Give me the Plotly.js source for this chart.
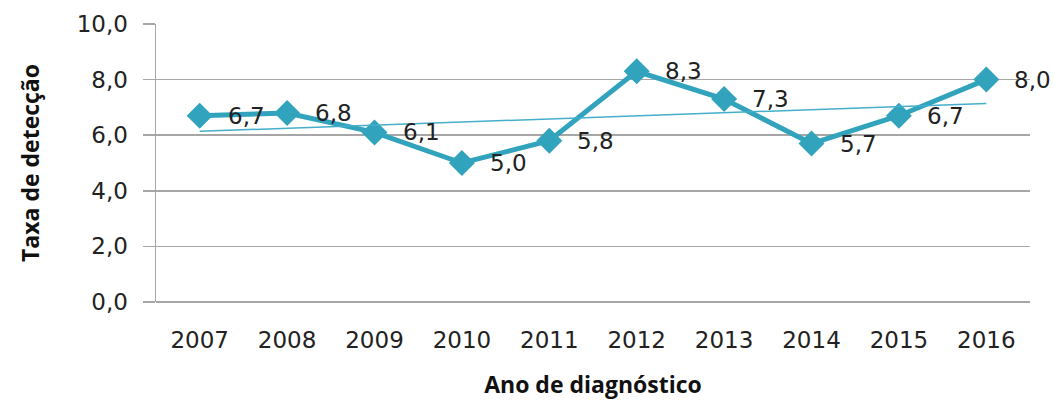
<!DOCTYPE html>
<html>
<head>
<meta charset="utf-8">
<script src="https://cdn.plot.ly/plotly-3.0.1.min.js"></script>
<style>
	body { margin: 0; background: white; }
	#plot { width: 1053px; height: 405px; }
</style>
</head>
<body>
<div id="plot"></div>
<script>
const years = ["2007", "2008", "2009", "2010", "2011", "2012", "2013", "2014", "2015", "2016"];
const rates = [6.7, 6.8, 6.1, 5.0, 5.8, 8.3, 7.3, 5.7, 6.7, 8.0];
const rateLabels = ["6,7", "6,8", "6,1", "5,0", "5,8", "8,3", "7,3", "5,7", "6,7", "8,0"];
const trendYears = ["2007", "2016"];
const trendValues = [6.14, 7.14];

const makeDetectionPlot = (plot) => {
	let traces = [
		{
			type: "scatter",
			x: years,
			y: rates,
			mode: "lines+markers",
			line: { color: "#31A3BD", width: 5 },
			marker: { symbol: "diamond", size: 20, color: "#31A3BD" }
		},
		{
			type: "scatter",
			x: trendYears,
			y: trendValues,
			mode: "lines",
			line: { color: "#45AECA", width: 1.5 },
			hoverinfo: "skip"
		}
	];
	let annotations = years.map((yr, i) => ({
		x: i,
		y: rates[i],
		xref: "x",
		yref: "y",
		text: rateLabels[i],
		showarrow: false,
		xanchor: "left",
		yanchor: "middle",
		xshift: 26,
		font: { family: "DejaVu Sans", size: 23, color: "#222222" }
	}));
	let layout = {
		showlegend: false,
		separators: ",.",
		width: 1053,
		height: 405,
		margin: { l: 156, r: 23, t: 24, b: 103 },
		paper_bgcolor: "white",
		plot_bgcolor: "white",
		font: { family: "DejaVu Sans", size: 23, color: "#222222" },
		xaxis: {
			type: "category",
			categoryorder: "array",
			categoryarray: years,
			range: [-0.5, 9.5],
			showgrid: false,
			showline: false,
			ticks: "",
			ticklabelstandoff: 22,
			tickfont: { family: "DejaVu Sans", size: 23, color: "#222222" },
			title: {
				text: "<b>Ano de diagnóstico</b>",
				font: { family: "Open Sans", size: 23, color: "#111111" },
				standoff: 24
			}
		},
		yaxis: {
			range: [0, 10],
			dtick: 2,
			tickformat: ".1f",
			showgrid: true,
			gridcolor: "#A6A6A6",
			gridwidth: 1.5,
			zeroline: true,
			zerolinecolor: "#A6A6A6",
			zerolinewidth: 1.5,
			showline: true,
			linecolor: "#A6A6A6",
			linewidth: 1.5,
			ticks: "outside",
			ticklen: 12,
			tickcolor: "#A6A6A6",
			tickwidth: 1.5,
			ticklabelstandoff: 10,
			tickfont: { family: "DejaVu Sans", size: 23, color: "#222222" },
			title: {
				text: "<b>Taxa de detecção</b>",
				font: { family: "Open Sans", size: 23, color: "#111111" },
				standoff: 30
			}
		},
		annotations: annotations
	};
	Plotly.newPlot(plot, traces, layout, { displayModeBar: false, staticPlot: true });
};

makeDetectionPlot("plot");
</script>
</body>
</html>
